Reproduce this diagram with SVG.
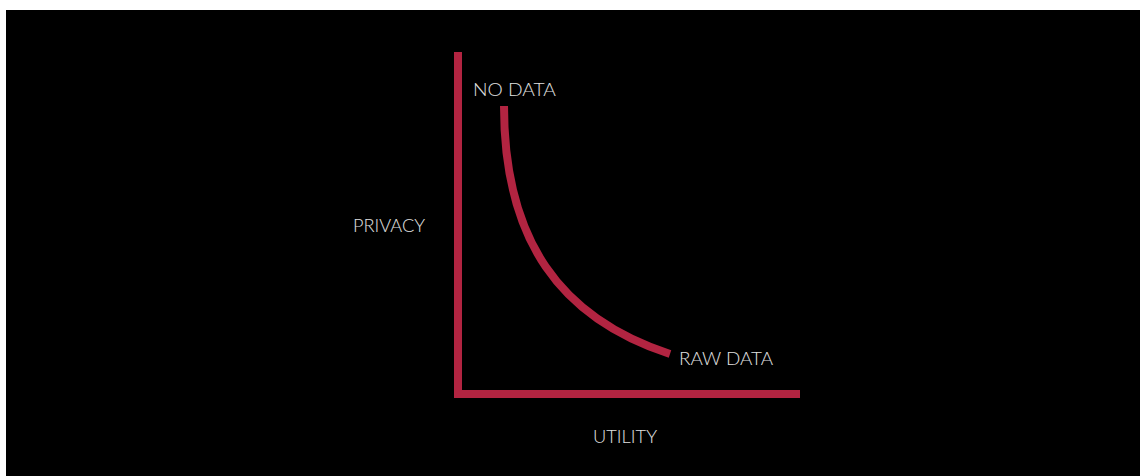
<svg xmlns="http://www.w3.org/2000/svg" width="1140" height="476" viewBox="0 0 1140 476">
<style>
.lbl{font-family:Lato,"Noto Sans","Liberation Sans",sans-serif;font-size:18px;font-weight:300;fill:#e0e0e0}
.axis{fill:#b22441}
.curve{fill:none;stroke:#b22441;stroke-width:8}
</style>
<rect x="0" y="0" width="1140" height="476" fill="#ffffff"/>
<rect x="6" y="10" width="1134" height="466" fill="#000000"/>
<g id="connectors">
<g id="y-axis"><rect class="axis" x="454" y="52" width="8" height="346"/></g>
<g id="x-axis"><rect class="axis" x="454" y="390" width="346" height="8"/></g>
<path id="tradeoff-curve" class="curve" d="M504 106 C504 240 560 318 670 354"/>
</g>
<g id="privacy-label"><text class="lbl" x="353" y="232" textLength="72" lengthAdjust="spacingAndGlyphs">PRIVACY</text></g>
<g id="utility-label"><text class="lbl" x="593" y="443" textLength="64" lengthAdjust="spacingAndGlyphs">UTILITY</text></g>
<g id="no-data"><text class="lbl" x="473" y="96" textLength="83" lengthAdjust="spacingAndGlyphs">NO DATA</text></g>
<g id="raw-data"><text class="lbl" x="679" y="365" textLength="94" lengthAdjust="spacingAndGlyphs">RAW DATA</text></g>
</svg>
